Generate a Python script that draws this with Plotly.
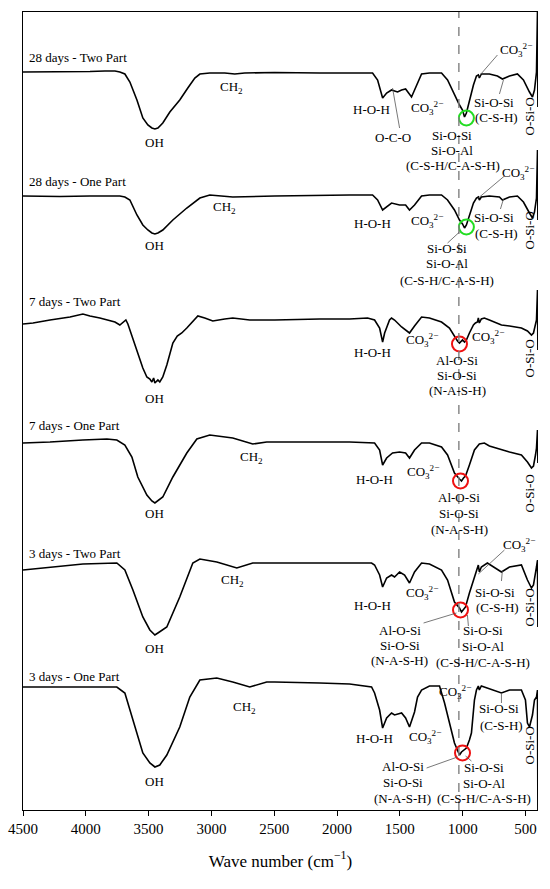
import plotly.graph_objects as go

# FTIR spectra (wave number cm-1, relative transmittance)
wn_28_two = [4500, 4206, 3967, 3848, 3768, 3729, 3689, 3649, 3593, 3546,
             3506, 3474, 3450, 3426, 3387, 3331, 3252, 3188, 3132, 3092,
             3013, 2894, 2814, 2735, 2496, 2138, 1900, 1717, 1677, 1637,
             1605, 1566, 1542, 1518, 1486, 1454, 1407, 1367, 1327, 1264,
             1168, 1120, 1065, 1025, 1001, 985, 970, 946, 914, 890,
             875, 867, 851, 787, 723, 683, 627, 564, 516, 468,
             444, 428, 412, 404, 401]
t_28_two = [738, 738, 738.5, 739, 739, 738, 736, 728, 710, 692,
            685, 682, 681, 682, 687, 698, 710, 722, 732, 736,
            737, 737, 736, 737, 737.5, 737, 737, 737, 730, 712,
            717, 720, 719, 718, 720, 721, 713, 725, 736, 737,
            737, 730, 715, 705, 700, 693, 697, 710, 725, 734,
            735, 732, 736, 736, 734, 731, 734, 736, 730, 718,
            713, 720, 738, 800, 703]

wn_28_one = [4500, 4206, 3967, 3808, 3729, 3689, 3649, 3593, 3546, 3506,
             3474, 3450, 3426, 3387, 3307, 3196, 3092, 3013, 2830, 2496,
             2138, 1900, 1717, 1677, 1637, 1582, 1566, 1502, 1454, 1423,
             1383, 1327, 1264, 1168, 1120, 1065, 1025, 1001, 985, 970,
             946, 914, 890, 875, 867, 851, 787, 707, 683, 627,
             564, 516, 468, 444, 428, 412, 404, 401]
t_28_one = [614, 613.5, 614, 614.5, 614, 613, 610, 595, 585, 580,
            577, 576, 577, 580, 590, 602, 612, 615, 613, 614,
            615, 615, 615, 610, 600, 605, 607, 605, 605, 600,
            605, 614, 615, 615, 610, 600, 590, 586, 582, 585,
            595, 607, 612, 613, 610, 613, 614, 613, 610, 613,
            614, 608, 597, 592, 598, 612, 660, 590]

wn_7_two = [4500, 4420, 4285, 4126, 4023, 3967, 3888, 3832, 3768, 3729,
            3713, 3681, 3665, 3649, 3609, 3570, 3546, 3514, 3490, 3474,
            3460, 3450, 3426, 3411, 3387, 3355, 3331, 3307, 3272, 3236,
            3196, 3148, 3108, 3053, 2989, 2894, 2830, 2695, 2560, 2496,
            2138, 1900, 1757, 1701, 1661, 1637, 1621, 1582, 1566, 1542,
            1486, 1439, 1423, 1383, 1343, 1327, 1264, 1168, 1105, 1065,
            1041, 1025, 1001, 985, 970, 946, 914, 898, 882, 875,
            867, 851, 827, 787, 707, 691, 627, 532, 484, 452,
            436, 420, 412, 404, 401]
t_7_two = [486, 487, 490, 493, 496, 494, 492, 490, 488, 485,
           487, 490, 486, 480, 465, 450, 442, 433, 431, 428,
           432, 427, 430, 428, 433, 445, 455, 467, 474, 477,
           482, 488, 494, 492, 489, 491, 492, 490, 490, 490,
           491, 491, 492, 490, 482, 468, 477, 490, 492, 490,
           483, 478, 477, 484, 491, 493, 492, 488, 482, 473,
           469, 467, 470, 468, 470, 477, 485, 487, 488, 492,
           487, 491, 492, 490, 486, 485, 484, 482, 479, 475,
           477, 484, 490, 520, 460]

wn_7_one = [4500, 4285, 4023, 3832, 3753, 3689, 3633, 3586, 3514, 3474,
            3450, 3426, 3387, 3307, 3196, 3116, 3013, 2830, 2671, 2560,
            2496, 2138, 1900, 1701, 1661, 1637, 1605, 1558, 1502, 1454,
            1423, 1383, 1327, 1264, 1168, 1120, 1065, 1025, 1009, 993,
            977, 946, 906, 867, 827, 787, 691, 627, 532, 484,
            452, 436, 420, 412, 404, 401]
t_7_one = [367, 368, 370, 371, 370, 365, 353, 333, 315, 309,
           307, 309, 313, 333, 357, 371, 375, 372, 366, 368,
           368, 368, 368, 367, 360, 345, 352, 357, 358, 357,
           352, 360, 367, 367, 363, 355, 337, 331, 329, 332,
           334, 345, 360, 366, 367, 364, 360, 358, 355, 348,
           342, 344, 355, 362, 380, 347]

wn_3_two = [4500, 4285, 4023, 3753, 3689, 3625, 3546, 3490, 3450, 3426,
            3355, 3252, 3148, 3092, 2957, 2798, 2671, 2496, 2138, 1900,
            1725, 1701, 1661, 1637, 1605, 1566, 1542, 1502, 1462, 1423,
            1383, 1327, 1264, 1168, 1120, 1065, 1025, 1009, 993, 977,
            946, 914, 890, 875, 867, 851, 803, 707, 691, 627,
            532, 484, 452, 436, 420, 412, 404, 401]
t_3_two = [240, 243, 246, 247, 240, 220, 193, 180, 175, 177,
           183, 213, 247, 251, 248, 242, 247, 247, 247, 247,
           247, 245, 235, 223, 232, 235, 233, 238, 235, 227,
           238, 247, 246, 240, 230, 208, 202, 198, 201, 203,
           217, 230, 240, 245, 238, 243, 247, 240, 238, 243,
           245, 230, 222, 225, 235, 243, 250, 183]

wn_3_one = [4500, 4206, 3967, 3753, 3689, 3625, 3546, 3490, 3450, 3411,
            3355, 3252, 3172, 3092, 2957, 2830, 2695, 2560, 2496, 2138,
            1900, 1725, 1701, 1661, 1637, 1605, 1566, 1542, 1486, 1454,
            1423, 1383, 1359, 1327, 1264, 1184, 1144, 1065, 1025, 1009,
            993, 970, 946, 930, 906, 890, 875, 867, 851, 803,
            707, 691, 627, 532, 500, 484, 468, 444, 428, 412,
            404, 401]
t_3_one = [123, 123, 123, 123, 117, 90, 57, 47, 43, 45,
           55, 83, 113, 130, 132, 128, 123, 128, 128, 127,
           126, 123, 117, 100, 82, 92, 97, 95, 97, 92,
           83, 98, 113, 120, 124, 124, 107, 67, 55, 58,
           60, 62, 70, 77, 110, 120, 124, 120, 124, 122,
           118, 117, 120, 120, 110, 87, 83, 95, 110, 113,
           120, 0]

dashed_wn = 1030
circle_wn = [970, 970, 1025, 1017, 1017, 1001]
circle_t = [692, 583, 466, 329, 200, 57]
circle_col = ["#22dd22", "#22dd22", "#ee1111", "#ee1111", "#ee1111", "#ee1111"]

FONT = "Liberation Serif, Times New Roman, serif"
CO3 = "CO<sub>3</sub><sup>2\u2212</sup>"
CH2 = "CH<sub>2</sub>"

fig = go.Figure()
for wn, t in [(wn_28_two, t_28_two), (wn_28_one, t_28_one), (wn_7_two, t_7_two),
              (wn_7_one, t_7_one), (wn_3_two, t_3_two), (wn_3_one, t_3_one)]:
    fig.add_trace(go.Scatter(x=wn, y=t, mode="lines",
                             line=dict(color="black", width=1.6),
                             showlegend=False, hoverinfo="skip"))

fig.add_trace(go.Scatter(x=circle_wn, y=circle_t, mode="markers",
                         marker=dict(symbol="circle-open", size=15, color=circle_col,
                                     line=dict(width=2)),
                         showlegend=False, hoverinfo="skip"))

# dashed reference line
fig.add_shape(type="line", x0=dashed_wn, x1=dashed_wn, y0=0, y1=1, yref="paper",
              line=dict(color="#808080", width=1.4, dash="dash"))

# leader lines
leaders = [
    (1558, 722, 1502, 682), (875, 733, 723, 755), (675, 730, 707, 716),
    (875, 612, 667, 634), (675, 611, 699, 601), (1025, 578, 1120, 567),
    (875, 236, 667, 260), (683, 240, 691, 229), (962, 195, 954, 184),
    (1311, 187, 1049, 197), (691, 117, 691, 107), (1287, 42, 1041, 53),
    (977, 54, 930, 49),
]
for x0, y0, x1, y1 in leaders:
    fig.add_shape(type="line", x0=x0, y0=y0, x1=x1, y1=y1,
                  line=dict(color="#555555", width=0.8))

# series names
series_labels = [("28 days - Two Part", 753), ("28 days - One Part", 629),
                 ("7 days - Two Part", 509), ("7 days - One Part", 385),
                 ("3 days - Two Part", 257), ("3 days - One Part", 134)]
for txt, y in series_labels:
    fig.add_annotation(x=4470, y=y, text=txt, showarrow=False, xanchor="left",
                       font=dict(family=FONT, size=13, color="black"))

# band labels: (text, x, y, xanchor)
labels = [
    # 28 days - Two Part
    ("OH", 3450, 668, "center"), (CH2, 2838, 723, "center"),
    ("H-O-H", 1725, 701, "center"), (CO3, 1431, 702, "left"),
    ("O-C-O", 1558, 673, "center"),
    ("Si-O-Si", 1081, 675, "center"), ("Si-O-Al", 1081, 660, "center"),
    ("(C-S-H/C-A-S-H)", 1073, 645, "center"),
    ("Si-O-Si", 747, 708, "center"), ("(C-S-H)", 731, 693, "center"),
    (CO3, 715, 760, "left"),
    # 28 days - One Part
    ("OH", 3450, 565, "center"), (CH2, 2894, 603, "center"),
    ("H-O-H", 1717, 587, "center"), (CO3, 1431, 589, "left"),
    ("Si-O-Si", 747, 593, "center"), ("(C-S-H)", 731, 577, "center"),
    (CO3, 699, 637, "left"),
    ("Si-O-Si", 1128, 562, "center"), ("Si-O-Al", 1128, 547, "center"),
    ("(C-S-H/C-A-S-H)", 1128, 530, "center"),
    # 7 days - Two Part
    ("OH", 3450, 412, "center"),
    ("H-O-H", 1717, 458, "center"), (CO3, 1463, 470, "left"),
    (CO3, 938, 473, "left"),
    ("Al-O-Si", 1041, 450, "center"), ("Si-O-Si", 1041, 435, "center"),
    ("(N-A-S-H)", 1041, 420, "center"),
    # 7 days - One Part
    ("OH", 3450, 297, "center"), (CH2, 2679, 353, "center"),
    ("H-O-H", 1701, 331, "center"), (CO3, 1455, 338, "left"),
    ("Al-O-Si", 1025, 313, "center"), ("Si-O-Si", 1025, 297, "center"),
    ("(N-A-S-H)", 1025, 281, "center"),
    # 3 days - Two Part
    ("OH", 3450, 162, "center"), (CH2, 2830, 230, "center"),
    ("H-O-H", 1717, 205, "center"), (CO3, 1463, 217, "left"),
    (CO3, 691, 265, "left"),
    ("Si-O-Si", 739, 218, "center"), ("(C-S-H)", 723, 203, "center"),
    ("Si-O-Si", 834, 180, "center"), ("Si-O-Al", 834, 164, "center"),
    ("(C-S-H/C-A-S-H)", 834, 148, "center"),
    ("Al-O-Si", 1502, 180, "center"), ("Si-O-Si", 1502, 165, "center"),
    ("(N-A-S-H)", 1502, 150, "center"),
    # 3 days - One Part
    ("OH", 3450, 29, "center"), (CH2, 2735, 103, "center"),
    ("H-O-H", 1701, 72, "center"), (CO3, 1439, 73, "left"),
    (CO3, 1208, 118, "left"),
    ("Si-O-Si", 707, 102, "center"), ("(C-S-H)", 691, 85, "center"),
    ("Al-O-Si", 1478, 44, "center"), ("Si-O-Si", 1478, 28, "center"),
    ("(N-A-S-H)", 1478, 12, "center"),
    ("Si-O-Si", 827, 43, "center"), ("Si-O-Al", 827, 27, "center"),
    ("(C-S-H/C-A-S-H)", 827, 12, "center"),
]
for txt, x, y, anc in labels:
    fig.add_annotation(x=x, y=y, text=txt, showarrow=False, xanchor=anc,
                       font=dict(family=FONT, size=13, color="black"))

# rotated O-Si-O labels
for y in [694, 580, 452, 317, 203, 65]:
    fig.add_annotation(x=468, y=y, text="O-Si-O", showarrow=False, textangle=-90,
                       font=dict(family=FONT, size=13, color="black"))

fig.update_layout(
    width=550, height=889,
    margin=dict(l=23, r=12, t=12, b=79, autoexpand=False),
    plot_bgcolor="white", paper_bgcolor="white",
    font=dict(family=FONT, color="black"),
    xaxis=dict(range=[4500, 400], tickvals=[4500, 4000, 3500, 3000, 2500, 2000, 1500, 1000, 500],
               ticks="outside", ticklen=5, tickwidth=1.2, tickcolor="black",
               showline=True, linecolor="black", linewidth=1.4, mirror=True,
               showgrid=False, zeroline=False,
               tickfont=dict(family=FONT, size=15, color="black"),
               title=dict(text="Wave number (cm<sup>\u22121</sup>)", standoff=18,
                          font=dict(family=FONT, size=17, color="black"))),
    yaxis=dict(range=[0, 798], showticklabels=False, ticks="",
               showline=True, linecolor="black", linewidth=1.4,
               showgrid=False, zeroline=False),
)

fig.write_html("out.html", config={"displayModeBar": False},
               post_script="document.body.style.margin='0';")
